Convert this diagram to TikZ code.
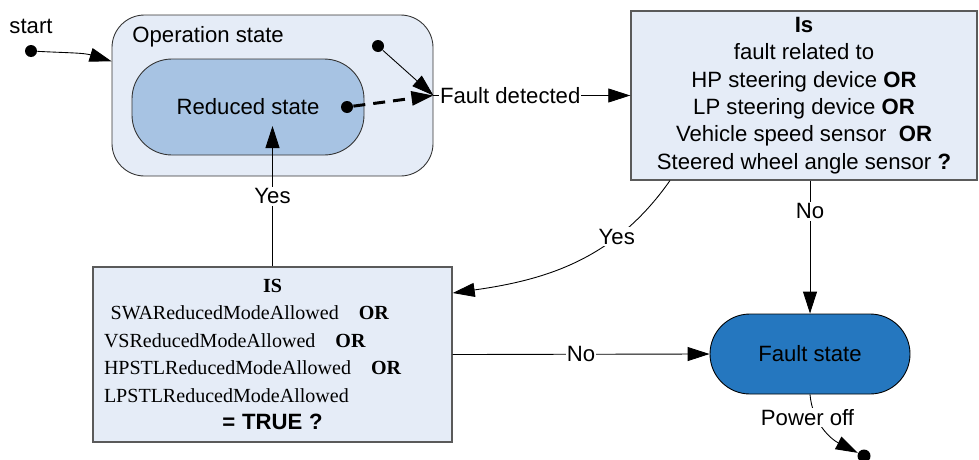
\documentclass[tikz,border=0pt]{standalone}
\usepackage{fontspec}
\setmainfont{Liberation Sans}
\setsansfont{Liberation Sans}
\newfontfamily\serifnames{Liberation Serif}
\usetikzlibrary{arrows.meta}
\definecolor{lightfill}{HTML}{E5ECF7}
\definecolor{reducedfill}{HTML}{A7C3E3}
\definecolor{faultfill}{HTML}{2577BF}
\definecolor{rand}{HTML}{5A5A5A}

\begin{document}
\begin{tikzpicture}[
  font=\fontsize{12.6}{15.6}\selectfont,
  line width=0.5pt,
  >={Triangle[length=0.44cm,width=0.28cm]},
  dot/.style={circle, fill=black, inner sep=0pt, minimum size=0.24cm},
  cond/.style={draw=rand, fill=lightfill, line width=0.8pt},
  lbl/.style={fill=white, inner sep=1pt},
]
\useasboundingbox (0,0) rectangle (19.58,-9.18);

% States
\node[draw=black!80, fill=lightfill, rounded corners=0.65cm, minimum width=6.42cm, minimum height=3.22cm] (opstate) at (5.45,-1.91) {};
\node[anchor=west, inner sep=0pt] (optitle) at (2.64,-0.74) {Operation state};
\node[draw=black!80, fill=reducedfill, rounded corners=0.8cm, minimum width=4.64cm, minimum height=1.92cm] (reduced) at (4.96,-2.14) {Reduced state};
\node[draw=black, fill=faultfill, rounded corners=0.8cm, minimum width=4cm, minimum height=1.6cm] (faultstate) at (16.2,-7.08) {Fault state};

% Decisions
\node[cond, align=center, minimum width=6.92cm, minimum height=3.18cm] (isbox) at (16.08,-1.91) {\textbf{Is}\\fault related to\\HP steering device \textbf{OR}\\LP steering device \textbf{OR}\\Vehicle speed sensor\ \ \textbf{OR}\\Steered wheel angle sensor \textbf{?}};
\node[cond, align=left, text width=6.74cm, inner xsep=0.22cm, minimum width=7.18cm, minimum height=3.5cm, font=\serifnames\fontsize{11.4}{15.6}\selectfont] (condbox) at (5.45,-7.09) {%
  \mbox{}\hfill\textbf{IS}\hfill\mbox{}\\
  \ SWAReducedModeAllowed~~~\textbf{OR}\\
  VSReducedModeAllowed~~~\textbf{OR}\\
  HPSTLReducedModeAllowed~~~\textbf{OR}\\
  LPSTLReducedModeAllowed\\
  \mbox{}\hfill{\sffamily\bfseries\fontsize{12.6}{15.6}\selectfont = TRUE ?}\hfill\mbox{}};

% Start, end and inner points
\node[inner sep=0pt] (startlbl) at (0.62,-0.52) {start};
\node[dot] (startdot) at (0.62,-1.02) {};
\node[dot] (opdot) at (7.56,-0.92) {};
\node[dot] (reddot) at (6.94,-2.14) {};
\node[dot, minimum size=0.26cm] (enddot) at (17.28,-9.12) {};
\coordinate (redin) at (5.45,-2.52);

% Transitions
\draw[->] (startdot) to[out=-3, in=163] (opstate.168);
\draw[->] (opdot) -- (opstate.east);
\draw[->, line width=1.7pt, dash pattern=on 0.24cm off 0.16cm] (reddot) -- (opstate.east);
\draw[->] (opstate.east) -- node[lbl, pos=0.39, inner sep=0.5pt] {Fault detected} (isbox.west);
\draw[->] (isbox.south -| faultstate.north) -- node[lbl, pos=0.23] {No} (faultstate.north);
\draw[->] ([xshift=-2.68cm]isbox.south) to[out=-125, in=8] node[lbl, pos=0.3] {Yes} ([yshift=1.23cm]condbox.east);
\draw[->] (condbox.east) -- node[lbl, inner sep=0.5pt] {No} (faultstate.west);
\draw[->] (condbox.north) -- node[lbl] {Yes} (redin);
\draw[->] (faultstate.south) to[out=-85, in=153] node[lbl, pos=0.3, xshift=-0.18cm] {Power off} (enddot);
\end{tikzpicture}
\end{document}
